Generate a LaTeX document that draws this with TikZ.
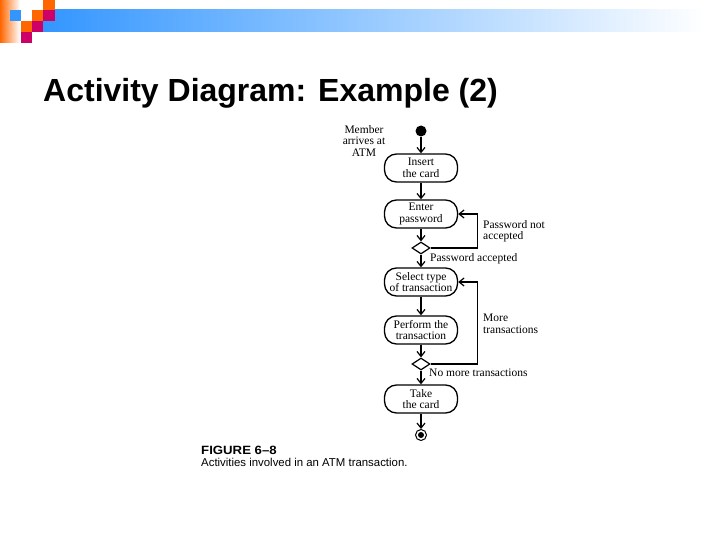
\documentclass[tikz,border=0pt]{standalone}
\usepackage{fontspec}
\usepackage{graphicx}
\setmainfont{Liberation Serif}
\newfontfamily\arialf{Liberation Sans}
\usetikzlibrary{arrows.meta,shapes.geometric}
\definecolor{hdrblue}{RGB}{51,150,255}
\definecolor{hdrorange}{RGB}{255,102,0}
\definecolor{hdrmag}{RGB}{204,0,102}
\newcommand\lblfont{\fontsize{11.5}{11.5}\selectfont}
\begin{document}
\begin{tikzpicture}[x=1pt,y=-1pt,
  act/.style={draw, line width=1.3pt, rounded corners=12pt, minimum width=73pt, minimum height=28pt, align=center, inner sep=0pt, font=\lblfont},
  flow/.style={-{Straight Barb[length=5pt,width=8pt]}, line width=1.2pt},
  dec/.style={draw, diamond, line width=1.2pt, minimum width=18pt, minimum height=12pt, inner sep=0pt},
  lbl/.style={font=\lblfont, inner sep=0pt}]
\useasboundingbox (0,0) rectangle (720,540);
\fill[white] (0,0) rectangle (720,540);
% header decoration
\shade[left color=hdrorange, right color=white] (0,0) rectangle (20,43);
\shade[left color=hdrblue, right color=white] (43,10) rectangle (705,32);
\fill[hdrblue] (10,10) rectangle (21,21);
\fill[hdrorange] (32,10) rectangle (43,21);
\fill[hdrmag] (43,10) rectangle (55,21);
\fill[hdrorange] (43,0) rectangle (55,10);
\fill[hdrorange] (21,21) rectangle (32,32);
\fill[hdrmag] (32,21) rectangle (43,32);
\fill[hdrmag] (21,32) rectangle (32,43);
% title
\node[anchor=base west, inner sep=0pt] (title) at (43,102) {\arialf\bfseries\fontsize{32}{38}\selectfont Activity Diagram: Example (2)};
% diagram
\node[fill, circle, minimum size=11pt, inner sep=0pt] (start) at (421,131) {};
\node[act] (insert) at (421,168) {Insert\\the card};
\node[act] (enter) at (421,214) {Enter\\password};
\node[dec] (d1) at (421,248) {};
\node[act] (select) at (421,282) {Select type\\of transaction};
\node[act] (perform) at (421,330) {Perform the\\transaction};
\node[dec] (d2) at (421,364) {};
\node[act] (take) at (421,399) {Take\\the card};
\node[circle, draw, minimum size=11pt, inner sep=0pt, line width=1pt] (end) at (421,435) {};
\fill (end.center) circle (3pt);
\draw[flow] (start) -- (insert);
\draw[flow] (insert) -- (enter);
\draw[flow] (enter) -- (d1);
\draw[flow] (d1) -- (select);
\draw[flow] (d1.east) -- ++(47,0) |- (enter.east);
\draw[flow] (select) -- (perform);
\draw[flow] (perform) -- (d2);
\draw[flow] (d2) -- (take);
\draw[flow] (d2.east) -- ++(47,0) |- (select.east);
\draw[flow] (take) -- (end);
% labels
\node[lbl, align=center] (member) at (364,141) {Member\\arrives at\\ATM};
\node[lbl, anchor=west, align=left] (pna) at (483,231) {Password not\\accepted};
\node[lbl, anchor=west] (pa) at (430,259) {Password accepted};
\node[lbl, anchor=west, align=left] (mt) at (483,324) {More\\transactions};
\node[lbl, anchor=west] (nmt) at (429,373) {No more transactions};
% caption
\node[anchor=base west, inner sep=0pt] (fig) at (201,454) {\arialf\bfseries\fontsize{12}{14}\selectfont\scalebox{1.1}[1]{FIGURE 6–8}};
\node[anchor=base west, inner sep=0pt] (cap) at (201,466) {\arialf\fontsize{11.4}{13}\selectfont Activities involved in an ATM transaction.};
\end{tikzpicture}
\end{document}
